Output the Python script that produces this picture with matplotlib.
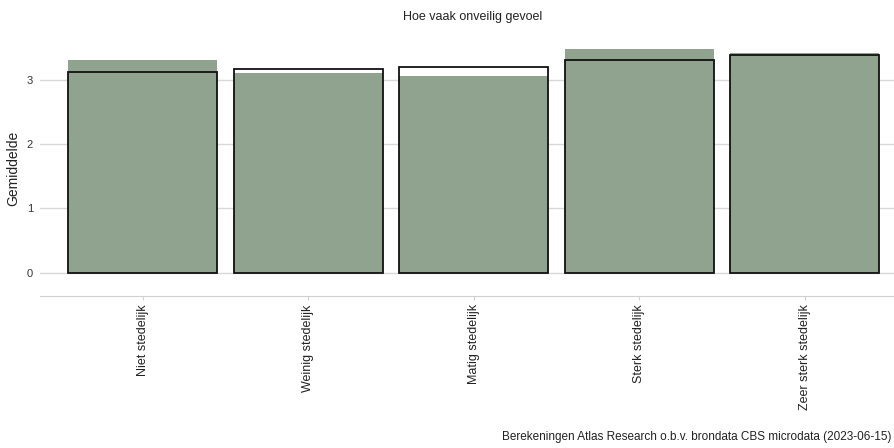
import matplotlib.pyplot as plt

plt.rcParams['font.family'] = ['Liberation Sans', 'DejaVu Sans']

# data
categories = ['Niet stedelijk', 'Weinig stedelijk', 'Matig stedelijk',
              'Sterk stedelijk', 'Zeer sterk stedelijk']
filled = [3.30, 3.11, 3.05, 3.48, 3.41]   # groene balken
outline = [3.12, 3.16, 3.19, 3.31, 3.39]  # zwarte omlijning
yticks = [0, 1, 2, 3]

fig = plt.figure(figsize=(8.94, 4.48), dpi=100)
ax = fig.add_axes([40/894, (448-296)/448, 854/894, (296-41)/448])

x = range(len(categories))
ax.bar(x, filled, width=0.9, color='#8fa38e', zorder=2)
ax.bar(x, outline, width=0.9, facecolor='none', edgecolor='#111111',
       linewidth=1.3, zorder=3)

ax.set_xlim(-0.62, 4.54)
ax.set_ylim(-0.36, 3.6)
ax.set_yticks(yticks)
ax.grid(axis='y', color='#d9d9d9', linewidth=1, zorder=0)
for s in ['top', 'right', 'left']:
    ax.spines[s].set_visible(False)
ax.spines['bottom'].set_color('#d0d0d0')
ax.set_xticks(list(x))
ax.set_xticklabels(categories, rotation=90, fontsize=9, color='#222222')
ax.tick_params(axis='x', length=3, color='#d0d0d0', pad=3)
ax.tick_params(axis='y', length=0, labelsize=8, labelcolor='#333333', pad=5)
ax.set_ylabel('Gemiddelde', fontsize=10, color='#222222', labelpad=5)

fig.text(473/894, 1 - 17/448, 'Hoe vaak onveilig gevoel', ha='center', va='center',
         fontsize=9, color='#222222')
# bron rechts uitgelijnd zodat de tekst binnen het beeld blijft
fig.text(891/894, 1 - 437/448,
         'Berekeningen Atlas Research o.b.v. brondata CBS microdata (2023-06-15)',
         ha='right', va='center', fontsize=8.5, color='#222222')

fig.savefig('out.png', dpi=100)
